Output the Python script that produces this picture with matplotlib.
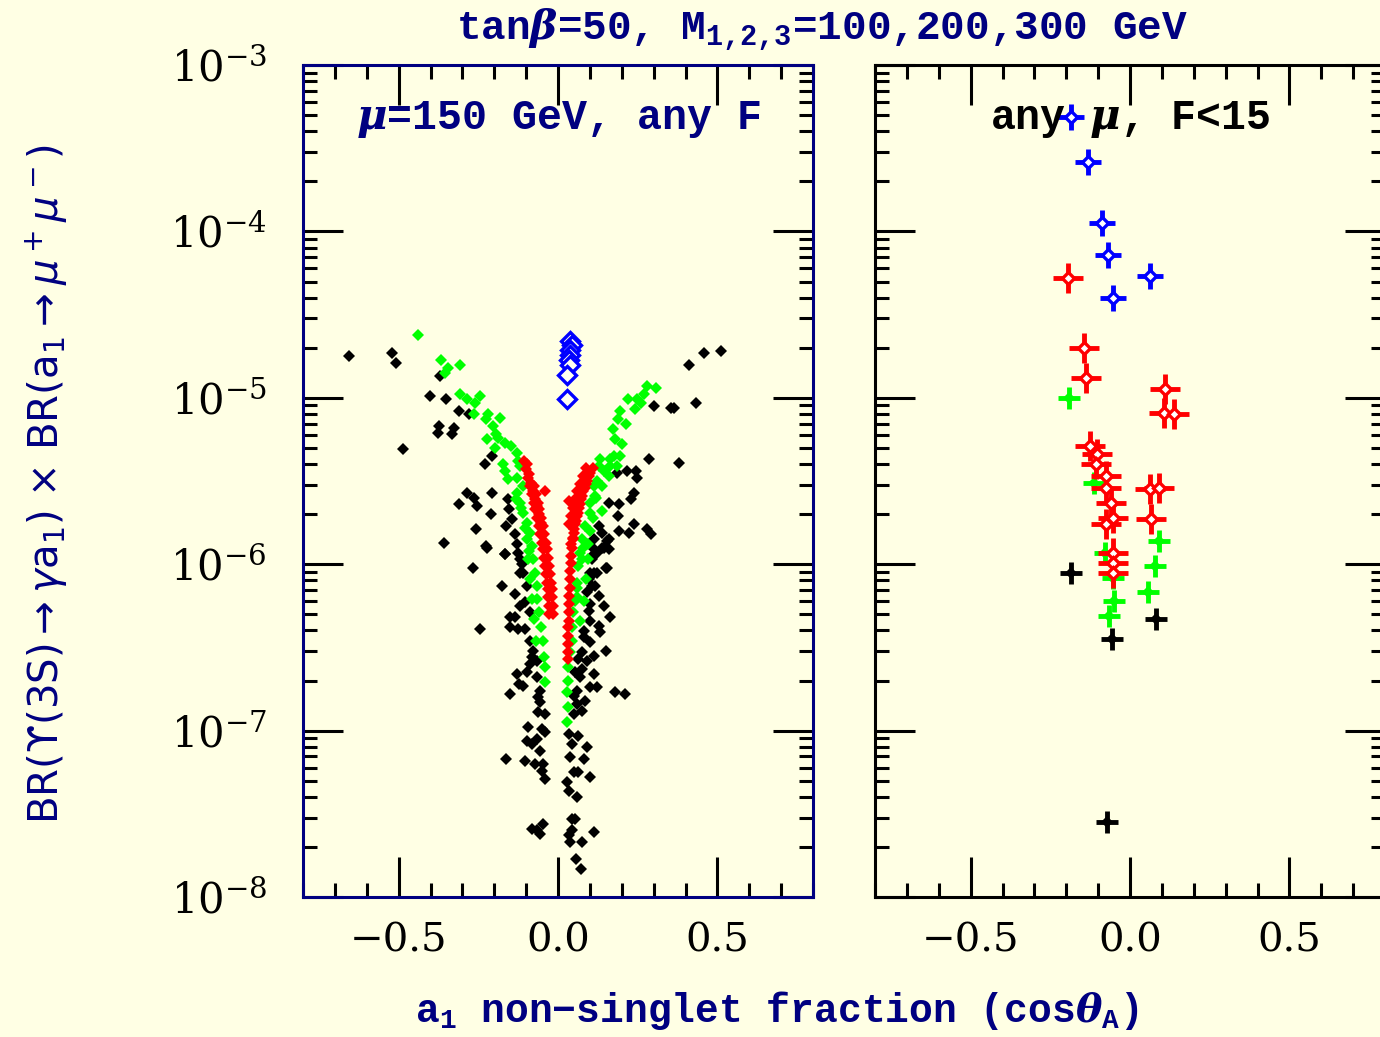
import matplotlib
matplotlib.use("Agg")
import matplotlib.pyplot as plt
import numpy as np
from matplotlib.ticker import MultipleLocator, LogLocator, NullFormatter

# values: x = cos(theta_A), y given as log10(BR product)

# left panel (mu = 150 GeV, any F)
black_x = [-0.656, -0.520, -0.507, -0.488, -0.370, -0.402, -0.351, -0.311, -0.280, -0.372,
           -0.378, -0.328, -0.332, -0.207, -0.229, -0.286, -0.312, -0.263, -0.255, -0.206,
           -0.158, -0.210, -0.258, -0.357, -0.224, -0.267, -0.166, -0.177, -0.136, -0.162,
           -0.153, -0.146, -0.135, -0.128, -0.120, -0.111, -0.098,
           0.412, 0.459, 0.512, 0.301, 0.354, 0.363, 0.433, 0.285, 0.380, 0.217,
           0.243, 0.249, 0.186, 0.238, 0.228, 0.159, 0.191, 0.189, 0.238, 0.222,
           0.191, 0.280, 0.293, 0.159, 0.138, 0.159, 0.154, 0.122, 0.112, 0.117,
           0.128, 0.138, 0.128, 0.112, 0.107, 0.101,
           -0.225, -0.167, -0.125, -0.114, -0.120, -0.104, -0.120, -0.151, -0.135, -0.088,
           -0.246, -0.151, -0.125, -0.104, -0.088, -0.078, -0.083, -0.088, -0.067, -0.130,
           -0.098, -0.109, -0.123, -0.067, -0.057, -0.062, -0.151, -0.057, -0.062, -0.041,
           -0.093, -0.051, -0.041, -0.098, -0.067, -0.083, -0.057, -0.162, -0.104, -0.072,
           -0.046, -0.051, -0.041, -0.083, -0.065, -0.048, -0.057,
           0.154, 0.143, 0.112, 0.107, 0.149, 0.122, 0.096, 0.107, 0.091, 0.143,
           0.101, 0.096, 0.164, 0.101, 0.128, 0.133, 0.080, 0.101, 0.080, 0.149,
           0.075, 0.112, 0.064, 0.091, 0.075, 0.054, 0.112, 0.070, 0.101, 0.122,
           0.059, 0.180, 0.209, 0.049, 0.086, 0.059, 0.075, 0.049, 0.033, 0.064,
           0.044, 0.091, 0.038, 0.080, 0.049, 0.064, 0.101, 0.028, 0.033, 0.059,
           0.044, 0.054, 0.044, 0.033, 0.112, 0.038, 0.075, 0.057, 0.072]
black_logbr = [-4.75, -4.73, -4.79, -5.31, -4.87, -4.99, -5.01, -5.08, -5.10, -5.17,
               -5.21, -5.18, -5.22, -5.35, -5.40, -5.57, -5.64, -5.60, -5.65, -5.57,
               -5.61, -5.70, -5.79, -5.87, -5.90, -6.02, -5.94, -6.13, -6.18, -5.77,
               -5.67, -5.73, -5.82, -5.88, -5.97, -6.05, -6.13,
               -4.80, -4.73, -4.72, -5.05, -5.06, -5.06, -5.03, -5.37, -5.39, -5.44,
               -5.44, -5.48, -5.45, -5.57, -5.61, -5.63, -5.64, -5.71, -5.76, -5.81,
               -5.80, -5.79, -5.82, -5.85, -5.90, -5.91, -6.02, -5.93, -6.05, -6.13,
               -6.19, -5.81, -5.77, -5.85, -5.95, -6.05,
               -5.89, -5.94, -5.93, -6.00, -6.05, -6.23, -6.25, -6.32, -6.32, -6.29,
               -6.39, -6.38, -6.39, -6.39, -6.46, -6.52, -6.56, -6.60, -6.58, -6.66,
               -6.65, -6.73, -6.72, -6.68, -6.76, -6.80, -6.78, -6.83, -6.89, -6.90,
               -6.98, -6.99, -7.01, -7.06, -7.05, -7.08, -7.12, -7.17, -7.18, -7.20,
               -7.20, -7.24, -7.29, -7.59, -7.60, -7.56, -7.62,
               -5.86, -5.90, -5.91, -5.97, -6.02, -6.05, -6.09, -6.13, -6.17, -6.25,
               -6.24, -6.28, -6.32, -6.34, -6.37, -6.41, -6.40, -6.47, -6.44, -6.52,
               -6.53, -6.55, -6.57, -6.58, -6.63, -6.65, -6.66, -6.68, -6.74, -6.74,
               -6.76, -6.77, -6.78, -6.79, -6.82, -6.84, -6.88, -6.90, -7.02, -7.03,
               -7.08, -7.10, -7.16, -7.17, -7.25, -7.25, -7.28, -7.31, -7.36, -7.40,
               -7.53, -7.53, -7.60, -7.63, -7.61, -7.67, -7.67, -7.77, -7.83]

green_x = [-0.438, -0.367, -0.346, -0.356, -0.309, -0.309, -0.286, -0.262, -0.244, -0.264,
           -0.220, -0.225, -0.181, -0.204, -0.195, -0.188, -0.223, -0.199, -0.167, -0.149,
           -0.130, -0.125, -0.172, -0.167, -0.158, -0.130, -0.120, -0.109, -0.128, -0.132,
           -0.120, -0.109, -0.098, -0.088, -0.083, -0.078, -0.072, -0.067, -0.066, -0.060,
           -0.053, -0.047, -0.044, -0.041, -0.041, -0.094, -0.088, -0.082, -0.075, -0.069,
           -0.115, -0.104, -0.097, -0.092,
           0.280, 0.307, 0.270, 0.219, 0.249, 0.259, 0.240, 0.194, 0.188, 0.212,
           0.173, 0.178, 0.201, 0.194, 0.175, 0.133, 0.162, 0.186, 0.164, 0.128,
           0.143, 0.159, 0.122, 0.138, 0.112, 0.117, 0.099, 0.138, 0.101, 0.086,
           0.075, 0.070, 0.064, 0.059, 0.059, 0.079, 0.076, 0.060, 0.054, 0.048,
           0.045, 0.045, 0.038, 0.032, 0.032, 0.029, 0.032, 0.029, 0.095, 0.089,
           0.082, 0.070, 0.120, 0.108, 0.100, 0.093]
green_logbr = [-4.62, -4.77, -4.82, -4.85, -4.80, -4.98, -5.01, -5.03, -4.99, -5.10,
               -5.10, -5.13, -5.12, -5.17, -5.22, -5.24, -5.25, -5.30, -5.27, -5.29,
               -5.33, -5.38, -5.40, -5.44, -5.49, -5.48, -5.41, -5.53, -5.57, -5.61,
               -5.63, -5.69, -5.75, -5.81, -5.89, -5.97, -6.05, -6.13, -6.21, -6.29,
               -6.38, -6.46, -6.56, -6.62, -6.71, -5.97, -6.09, -6.21, -6.33, -6.46,
               -5.66, -5.78, -5.85, -5.92,
               -4.93, -4.94, -4.98, -5.01, -5.01, -5.03, -5.07, -5.08, -5.13, -5.16,
               -5.19, -5.25, -5.28, -5.35, -5.35, -5.37, -5.37, -5.41, -5.41, -5.41,
               -5.44, -5.47, -5.50, -5.53, -5.53, -5.59, -5.63, -5.68, -5.69, -5.77,
               -5.85, -5.93, -6.01, -6.11, -6.20, -5.90, -5.97, -6.14, -6.22, -6.29,
               -6.38, -6.46, -6.53, -6.62, -6.70, -6.77, -6.86, -6.95, -5.97, -6.09,
               -6.22, -6.34, -5.60, -5.72, -5.80, -5.88]

red_x = [-0.107, -0.101, -0.094, -0.088, -0.082, -0.075, -0.072, -0.066, -0.060, -0.057,
         -0.050, -0.047, -0.044, -0.041, -0.038, -0.035, -0.031, -0.031, -0.028, -0.028,
         -0.075, -0.069, -0.062, -0.059, -0.053, -0.047, -0.044, -0.037, -0.034, -0.031,
         -0.028, -0.025, -0.022, -0.018, -0.018, -0.015, -0.015,
         -0.098, -0.091, -0.085, -0.079, -0.072, -0.066, -0.060, -0.054,
         0.108, 0.098, 0.089, 0.079, 0.073, 0.067, 0.060, 0.054, 0.051, 0.048,
         0.045, 0.041, 0.041, 0.038, 0.038, 0.038, 0.035, 0.035, 0.035, 0.035,
         0.032, 0.032, 0.032, 0.032, 0.032,
         0.089, 0.079, 0.070, 0.060, 0.054, 0.048, 0.041, 0.035,
         0.100, 0.092, 0.084, 0.076, 0.068, 0.062, 0.056, 0.050, 0.046, 0.042,
         -0.041, 0.033]
red_logbr = [-5.38, -5.43, -5.48, -5.53, -5.58, -5.63, -5.67, -5.72, -5.77, -5.82,
             -5.87, -5.91, -5.96, -6.01, -6.06, -6.11, -6.15, -6.20, -6.25, -6.30,
             -5.53, -5.58, -5.63, -5.67, -5.72, -5.77, -5.82, -5.87, -5.91, -5.96,
             -6.01, -6.06, -6.11, -6.15, -6.20, -6.25, -6.30,
             -5.40, -5.46, -5.51, -5.56, -5.61, -5.65, -5.70, -5.75,
             -5.42, -5.47, -5.52, -5.56, -5.61, -5.66, -5.71, -5.76, -5.81, -5.85,
             -5.90, -5.95, -5.99, -6.04, -6.09, -6.14, -6.19, -6.24, -6.29, -6.34,
             -6.38, -6.43, -6.48, -6.53, -6.57,
             -5.42, -5.47, -5.52, -5.56, -5.61, -5.66, -5.71, -5.76,
             -5.45, -5.50, -5.54, -5.59, -5.64, -5.69, -5.74, -5.79, -5.84, -5.88,
             -5.56, -5.62]

blue_x = [0.038, 0.044, 0.036, 0.038, 0.033, 0.038, 0.028, 0.028]
blue_logbr = [-4.66, -4.68, -4.71, -4.74, -4.77, -4.80, -4.86, -5.01]

# right panel (any mu, F < 15)
r_blue_x = [-0.186, -0.133, -0.088, -0.070, 0.061, -0.053]
r_blue_logbr = [-3.31, -3.58, -3.95, -4.14, -4.27, -4.40]
r_red_x = [-0.196, -0.144, -0.138, 0.111, 0.107, 0.138, -0.126, -0.103, -0.107, -0.075,
           -0.075, -0.061, -0.054, -0.075, 0.063, 0.092, 0.065, -0.054, -0.053, -0.054]
r_red_logbr = [-4.28, -4.70, -4.88, -4.95, -5.09, -5.10, -5.29, -5.34, -5.40, -5.47,
               -5.54, -5.63, -5.72, -5.76, -5.55, -5.54, -5.73, -5.93, -5.99, -6.05]
r_green_x = [-0.191, -0.112, -0.079, 0.091, 0.077, -0.055, -0.051, 0.056, -0.067]
r_green_logbr = [-5.00, -5.51, -5.93, -5.86, -6.01, -6.08, -6.22, -6.17, -6.31]
r_black_x = [-0.186, 0.081, -0.058, -0.072]
r_black_logbr = [-6.05, -6.33, -6.45, -7.55]

navy = '#000080'
bg = '#ffffe4'

plt.rcParams['font.family'] = 'DejaVu Serif'
plt.rcParams['mathtext.fontset'] = 'dejavuserif'
plt.rcParams['mathtext.rm'] = 'Liberation Mono:bold'
plt.rcParams['mathtext.bf'] = 'Liberation Mono:bold'
plt.rcParams['mathtext.it'] = 'DejaVu Serif:italic:bold'

fig = plt.figure(figsize=(13.8, 10.37), dpi=100, facecolor=bg)
ax1 = fig.add_axes([0.2196, 0.1350, 0.3696, 0.8023])
ax2 = fig.add_axes([0.6341, 0.1350, 0.3696, 0.8023])

for ax, spc in [(ax1, navy), (ax2, 'black')]:
    ax.set_facecolor(bg)
    ax.set_yscale('log')
    ax.set_xlim(-0.8, 0.8)
    ax.set_ylim(1e-8, 1e-3)
    ax.xaxis.set_major_locator(MultipleLocator(0.5))
    ax.xaxis.set_minor_locator(MultipleLocator(0.1))
    ax.yaxis.set_major_locator(LogLocator(base=10))
    ax.yaxis.set_minor_locator(LogLocator(base=10, subs=np.arange(2, 10)))
    ax.yaxis.set_minor_formatter(NullFormatter())
    ax.tick_params(which='both', direction='in', top=True, right=True, color='black', width=2.2)
    ax.tick_params(which='major', length=28.5)
    ax.tick_params(which='minor', length=10)
    ax.tick_params(axis='x', labelsize=29, pad=18)
    ax.tick_params(axis='y', labelsize=30, pad=26)
    ax.set_xticks([-0.5, 0.0, 0.5], ['\u22120.5', '0.0', '0.5'])
    for s in ax.spines.values():
        s.set_color(spc)
        s.set_linewidth(2.2)
ax2.tick_params(axis='y', labelleft=False)

ms_small = 6.3
ax1.plot(black_x, 10 ** np.array(black_logbr), ls='none', marker='D', ms=ms_small, mew=0, color='black')
ax1.plot(green_x, 10 ** np.array(green_logbr), ls='none', marker='D', ms=ms_small, mew=0, color='#00ff00')
ax1.plot(red_x, 10 ** np.array(red_logbr), ls='none', marker='D', ms=ms_small, mew=0, color='#ff0000')
ax1.plot(blue_x, 10 ** np.array(blue_logbr), ls='none', marker='D', ms=9, mew=2.4,
         mec='#0000ff', mfc='#fffff0')

# right panel: cross with a diamond in the middle
for xs, ls_, col, size, hollow in [(r_black_x, r_black_logbr, 'black', 16, False),
                                   (r_green_x, r_green_logbr, '#00ff00', 16, False),
                                   (r_red_x, r_red_logbr, '#ff0000', 21, True),
                                   (r_blue_x, r_blue_logbr, '#0000ff', 19, True)]:
    yv = 10 ** np.array(ls_)
    ax2.plot(xs, yv, ls='none', marker='+', ms=size, mew=3.5, color=col)
    if hollow:
        ax2.plot(xs, yv, ls='none', marker='D', ms=6.5, mew=2.4, mec=col, mfc='#ffffff')
    else:
        ax2.plot(xs, yv, ls='none', marker='D', ms=6.5, mew=0, color=col)

mono = ['Liberation Mono', 'DejaVu Sans Mono']
ax1.text(0.5, 0.934, r'$\mu$=150 GeV, any F', transform=ax1.transAxes, ha='center', va='center',
         fontsize=30, color=navy, family=mono, weight='bold', math_fontfamily='custom')
ax2.text(0.5, 0.934, r'any $\mu$, F<15', transform=ax2.transAxes, ha='center', va='center',
         fontsize=30, color='black', family=mono, weight='bold', math_fontfamily='custom')

fig.text(0.5957, 0.971, r'tan$\beta$=50, M$_{1{,}2{,}3}$=100,200,300 GeV', ha='center', va='center',
         fontsize=29.5, color=navy, family=mono, weight='bold', math_fontfamily='custom')
fig.text(0.563, 0.026, r'a$_{1}$ non' + '\u2212' + r'singlet fraction (cos$\theta_{\mathrm{A}}$)', ha='center',
         va='center', fontsize=28.5, color=navy, family=mono, weight='bold', math_fontfamily='custom')
fig.text(0.034, 0.533, 'BR(\u03d2(3S)' + r'$\rightarrow\gamma$a$_1$) $\times$ BR(a$_1$$\rightarrow\mu^+\mu^-$)',
         rotation=90, ha='center', va='center', fontsize=29, color=navy, family='DejaVu Sans',
         math_fontfamily='dejavusans')

fig.savefig('out.png', dpi=100, facecolor=bg)
